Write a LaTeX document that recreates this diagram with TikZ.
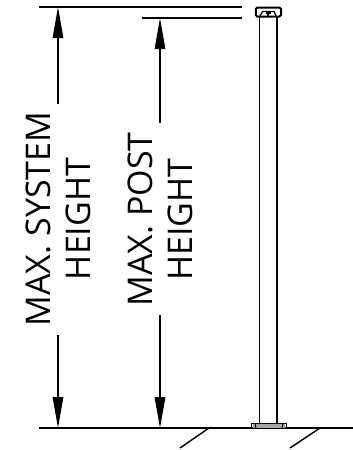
\documentclass[tikz,border=0pt]{standalone}
\usepackage{fontspec}
\setmainfont{Open Sans}
\usetikzlibrary{arrows.meta}
\tikzset{
  x=1pt,y=-1pt,
  lbl/.style={rotate=90,font=\fontsize{34}{40}\selectfont,inner sep=0pt,align=center,text=black},
  thick line/.style={line width=1.6pt,black},
  post/.style={line width=1.6pt,black},
  dim/.style={line width=1.5pt,black,-{Triangle[length=31pt,width=10.5pt]}},
  tick line/.style={line width=1.4pt,black}
}
\begin{document}
\begin{tikzpicture}
\useasboundingbox (0,0) rectangle (353,450);
\coordinate (sysL) at (39,7); \coordinate (sysR) at (242,7);
\coordinate (postL) at (142,18); \coordinate (postR) at (242,18);
\coordinate (gndL) at (39,428); \coordinate (gndR) at (353,428);
\draw[thick line] (sysL) -- (sysR);
\draw[thick line] (postL) -- (postR);
\draw[line width=2pt] (gndL) -- (gndR);
% dimension
\node[lbl] (sys) at (58.5,219) {MAX. SYSTEM\\HEIGHT};
\node[lbl] (pst) at (160.5,219.5) {MAX. POST\\HEIGHT};
\coordinate (a1) at (58,104); \coordinate (a1t) at (58,7);
\coordinate (a2) at (58,335); \coordinate (a2b) at (58,428);
\coordinate (b1) at (160,123); \coordinate (b1t) at (160,18);
\coordinate (b2) at (160,315); \coordinate (b2b) at (160,428);
\draw[dim] (a1) -- (a1t);
\draw[dim] (a2) -- (a2b);
\draw[dim] (b1) -- (b1t);
\draw[dim] (b2) -- (b2b);
% post
\draw[post] (259.5,16) -- (259.5,424);
\draw[post] (276.8,16) -- (276.8,424);
% cap
\draw[line width=2pt,rounded corners=1.5pt] (255.8,16.5) -- (255.8,7.5) -- (281,7.5) -- (281,16.5) -- cycle;
\draw[line width=1.2pt] (260,16) -- (262.5,11.5) -- (274,11.5) -- (276,16);
\fill (265.5,11) rectangle (271,13.5);
\draw[line width=1.4pt] (268,12) -- (268,17);
% base
\fill[gray!70] (253,424) rectangle (285,428);
\draw[line width=1pt] (251.7,428) -- (251.7,423.5) -- (286.7,423.5) -- (286.7,428);
\draw[line width=1pt] (255,424) -- (256,428);
\draw[line width=1pt] (283,424) -- (282,428);
% ground ticks
\draw[tick line] (209,428) -- (180,448);
\draw[tick line] (320,428) -- (290,448);
\end{tikzpicture}
\end{document}
